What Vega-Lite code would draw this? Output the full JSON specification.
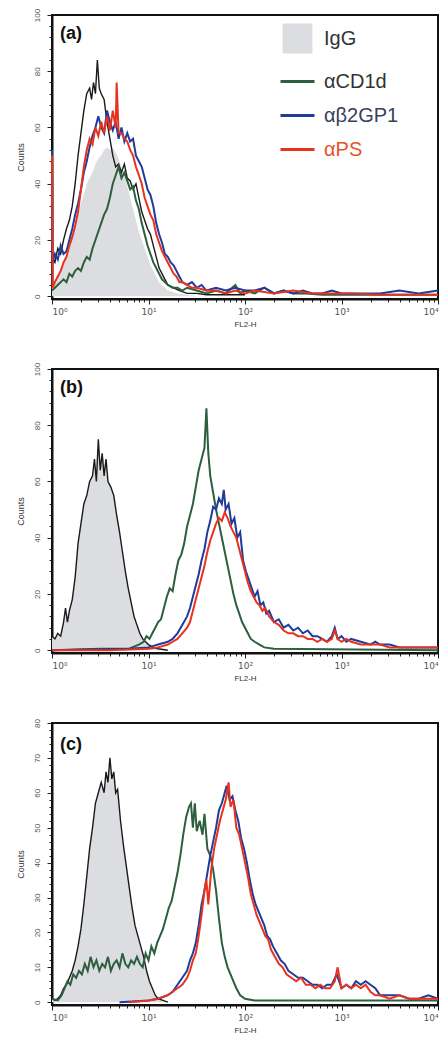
{
"$schema": "https://vega.github.io/schema/vega-lite/v6.json",
"background": "white",
"padding": {"left": 15, "top": 7, "right": 0, "bottom": 0},
"spacing": 70,
"bounds": "flush",
"resolve": {"scale": {"color": "independent"}},
"config": {
  "view": {"stroke": "#111", "strokeWidth": 2},
  "font": "Liberation Sans",
  "axis": {"grid": false, "domainColor": "#111", "domainWidth": 2, "tickColor": "#222", "tickWidth": 1, "labelColor": "#555", "labelFontSize": 8, "titleFontSize": 8, "titleFontWeight": "normal", "titleColor": "#333"},
  "axisX": {"labelPadding": 3, "titlePadding": 4, "labelFont": "DejaVu Sans", "labelFontSize": 9},
  "axisY": {"labelAngle": -90, "labelAlign": "center", "labelBaseline": "bottom", "labelPadding": 6, "titlePadding": 8, "titleFontSize": 9},
  "legend": {"title": null, "symbolType": "stroke", "symbolSize": 1156, "symbolStrokeWidth": 3, "labelFontSize": 20, "labelOffset": 8, "rowPadding": 5, "labelFont": "Liberation Sans", "labelColor": "#333333"}
},
"datasets": {
"aG": [{"l":0,"y":4},{"l":0.03,"y":5},{"l":0.06,"y":7},{"l":0.09,"y":9},{"l":0.12,"y":11},{"l":0.15,"y":14},{"l":0.18,"y":17},{"l":0.21,"y":21},{"l":0.24,"y":25},{"l":0.27,"y":29},{"l":0.30,"y":33},{"l":0.33,"y":36},{"l":0.36,"y":40},{"l":0.39,"y":42},{"l":0.42,"y":44},{"l":0.45,"y":47},{"l":0.48,"y":49},{"l":0.51,"y":50},{"l":0.54,"y":52},{"l":0.57,"y":53},{"l":0.60,"y":52},{"l":0.63,"y":53},{"l":0.66,"y":51},{"l":0.69,"y":49},{"l":0.72,"y":46},{"l":0.75,"y":43},{"l":0.78,"y":39},{"l":0.81,"y":35},{"l":0.84,"y":31},{"l":0.87,"y":27},{"l":0.90,"y":23},{"l":0.93,"y":20},{"l":0.96,"y":17},{"l":0.99,"y":14},{"l":1.02,"y":11},{"l":1.05,"y":9},{"l":1.08,"y":7},{"l":1.11,"y":5},{"l":1.14,"y":4},{"l":1.17,"y":3},{"l":1.20,"y":2},{"l":1.25,"y":1.5},{"l":1.30,"y":1},{"l":1.40,"y":0.5},{"l":1.50,"y":0}],
"aK": [{"l":0,"y":14},{"l":0.03,"y":12},{"l":0.06,"y":17},{"l":0.09,"y":15},{"l":0.12,"y":20},{"l":0.15,"y":24},{"l":0.18,"y":27},{"l":0.21,"y":32},{"l":0.24,"y":40},{"l":0.27,"y":50},{"l":0.30,"y":58},{"l":0.33,"y":66},{"l":0.36,"y":72},{"l":0.39,"y":74},{"l":0.41,"y":70},{"l":0.43,"y":76},{"l":0.45,"y":72},{"l":0.47,"y":84},{"l":0.49,"y":74},{"l":0.51,"y":72},{"l":0.54,"y":70},{"l":0.57,"y":62},{"l":0.60,"y":56},{"l":0.63,"y":50},{"l":0.66,"y":46},{"l":0.69,"y":47},{"l":0.72,"y":44},{"l":0.75,"y":47},{"l":0.78,"y":42},{"l":0.81,"y":41},{"l":0.84,"y":38},{"l":0.87,"y":40},{"l":0.90,"y":35},{"l":0.93,"y":30},{"l":0.96,"y":27},{"l":0.99,"y":24},{"l":1.02,"y":22},{"l":1.05,"y":18},{"l":1.08,"y":14},{"l":1.11,"y":10},{"l":1.14,"y":8},{"l":1.17,"y":6},{"l":1.20,"y":4},{"l":1.26,"y":3},{"l":1.32,"y":2},{"l":1.40,"y":1},{"l":1.50,"y":1},{"l":1.60,"y":0.5},{"l":2.0,"y":0.5}],
"aC": [{"l":0,"y":2},{"l":0.03,"y":3},{"l":0.06,"y":4},{"l":0.09,"y":5},{"l":0.12,"y":6},{"l":0.15,"y":5},{"l":0.18,"y":8},{"l":0.21,"y":7},{"l":0.24,"y":9},{"l":0.27,"y":10},{"l":0.30,"y":9},{"l":0.33,"y":12},{"l":0.36,"y":14},{"l":0.39,"y":13},{"l":0.42,"y":17},{"l":0.45,"y":20},{"l":0.48,"y":23},{"l":0.51,"y":26},{"l":0.54,"y":29},{"l":0.57,"y":31},{"l":0.60,"y":35},{"l":0.63,"y":40},{"l":0.66,"y":43},{"l":0.69,"y":46},{"l":0.72,"y":42},{"l":0.75,"y":44},{"l":0.78,"y":41},{"l":0.81,"y":38},{"l":0.84,"y":39},{"l":0.87,"y":34},{"l":0.90,"y":31},{"l":0.93,"y":26},{"l":0.96,"y":22},{"l":0.99,"y":18},{"l":1.02,"y":15},{"l":1.05,"y":12},{"l":1.08,"y":10},{"l":1.11,"y":8},{"l":1.14,"y":6},{"l":1.17,"y":5},{"l":1.20,"y":4},{"l":1.25,"y":3},{"l":1.30,"y":3},{"l":1.35,"y":2},{"l":1.40,"y":3},{"l":1.5,"y":2},{"l":1.6,"y":1},{"l":1.7,"y":2},{"l":1.8,"y":1},{"l":1.9,"y":4},{"l":1.95,"y":1},{"l":2.0,"y":2},{"l":2.1,"y":1},{"l":2.2,"y":3},{"l":2.3,"y":1},{"l":2.4,"y":2},{"l":2.5,"y":1},{"l":2.6,"y":1},{"l":2.8,"y":0.5},{"l":3.0,"y":0.5},{"l":3.5,"y":0.5},{"l":4.0,"y":0.5}],
"aB": [{"l":0,"y":52},{"l":0.005,"y":12},{"l":0.03,"y":15},{"l":0.06,"y":13},{"l":0.09,"y":18},{"l":0.12,"y":15},{"l":0.15,"y":16},{"l":0.18,"y":20},{"l":0.21,"y":24},{"l":0.24,"y":29},{"l":0.27,"y":33},{"l":0.30,"y":38},{"l":0.33,"y":44},{"l":0.36,"y":48},{"l":0.39,"y":53},{"l":0.42,"y":57},{"l":0.45,"y":60},{"l":0.48,"y":64},{"l":0.51,"y":60},{"l":0.54,"y":58},{"l":0.57,"y":66},{"l":0.60,"y":62},{"l":0.63,"y":59},{"l":0.66,"y":62},{"l":0.69,"y":56},{"l":0.72,"y":60},{"l":0.75,"y":55},{"l":0.78,"y":58},{"l":0.81,"y":55},{"l":0.84,"y":56},{"l":0.87,"y":50},{"l":0.90,"y":48},{"l":0.93,"y":46},{"l":0.96,"y":42},{"l":0.99,"y":38},{"l":1.02,"y":36},{"l":1.05,"y":32},{"l":1.08,"y":26},{"l":1.11,"y":22},{"l":1.14,"y":19},{"l":1.17,"y":15},{"l":1.20,"y":14},{"l":1.23,"y":12},{"l":1.26,"y":11},{"l":1.29,"y":9},{"l":1.32,"y":7},{"l":1.35,"y":5},{"l":1.40,"y":4},{"l":1.45,"y":5},{"l":1.5,"y":3},{"l":1.55,"y":4},{"l":1.6,"y":2},{"l":1.7,"y":3},{"l":1.8,"y":2},{"l":1.9,"y":3},{"l":2.0,"y":2},{"l":2.1,"y":2},{"l":2.2,"y":3},{"l":2.3,"y":1},{"l":2.4,"y":2},{"l":2.5,"y":1},{"l":2.6,"y":2},{"l":2.7,"y":1},{"l":2.8,"y":1},{"l":2.9,"y":2},{"l":3.0,"y":1},{"l":3.2,"y":1},{"l":3.4,"y":1},{"l":3.6,"y":2},{"l":3.8,"y":1},{"l":4.0,"y":2}],
"aP": [{"l":0,"y":50},{"l":0.005,"y":3},{"l":0.03,"y":5},{"l":0.06,"y":7},{"l":0.09,"y":9},{"l":0.12,"y":12},{"l":0.15,"y":14},{"l":0.18,"y":18},{"l":0.21,"y":21},{"l":0.24,"y":25},{"l":0.27,"y":30},{"l":0.30,"y":38},{"l":0.33,"y":46},{"l":0.36,"y":52},{"l":0.39,"y":56},{"l":0.42,"y":54},{"l":0.45,"y":60},{"l":0.48,"y":57},{"l":0.51,"y":62},{"l":0.54,"y":58},{"l":0.57,"y":64},{"l":0.60,"y":59},{"l":0.63,"y":66},{"l":0.66,"y":60},{"l":0.67,"y":76},{"l":0.69,"y":58},{"l":0.72,"y":58},{"l":0.75,"y":56},{"l":0.78,"y":55},{"l":0.81,"y":52},{"l":0.84,"y":50},{"l":0.87,"y":46},{"l":0.90,"y":43},{"l":0.93,"y":40},{"l":0.96,"y":35},{"l":0.99,"y":32},{"l":1.02,"y":29},{"l":1.05,"y":27},{"l":1.08,"y":22},{"l":1.11,"y":19},{"l":1.14,"y":16},{"l":1.17,"y":14},{"l":1.20,"y":12},{"l":1.23,"y":10},{"l":1.26,"y":8},{"l":1.29,"y":7},{"l":1.32,"y":5},{"l":1.35,"y":5},{"l":1.40,"y":4},{"l":1.45,"y":3},{"l":1.5,"y":3},{"l":1.6,"y":2},{"l":1.7,"y":2},{"l":1.8,"y":1},{"l":1.9,"y":2},{"l":2.0,"y":1},{"l":2.1,"y":2},{"l":2.3,"y":1},{"l":2.5,"y":2},{"l":2.7,"y":1},{"l":2.9,"y":1},{"l":3.1,"y":1},{"l":3.4,"y":0.5},{"l":4.0,"y":0.5}],
"bG": [{"l":0,"y":5},{"l":0.03,"y":4},{"l":0.06,"y":6},{"l":0.09,"y":5},{"l":0.12,"y":10},{"l":0.14,"y":15},{"l":0.16,"y":10},{"l":0.18,"y":14},{"l":0.21,"y":18},{"l":0.24,"y":26},{"l":0.27,"y":38},{"l":0.30,"y":45},{"l":0.33,"y":52},{"l":0.36,"y":55},{"l":0.39,"y":60},{"l":0.42,"y":62},{"l":0.44,"y":68},{"l":0.46,"y":60},{"l":0.48,"y":75},{"l":0.50,"y":64},{"l":0.52,"y":70},{"l":0.54,"y":62},{"l":0.56,"y":68},{"l":0.58,"y":60},{"l":0.61,"y":58},{"l":0.64,"y":55},{"l":0.67,"y":48},{"l":0.70,"y":42},{"l":0.73,"y":35},{"l":0.76,"y":28},{"l":0.79,"y":22},{"l":0.82,"y":17},{"l":0.85,"y":12},{"l":0.88,"y":9},{"l":0.91,"y":6},{"l":0.94,"y":4},{"l":0.97,"y":3},{"l":1.00,"y":2},{"l":1.05,"y":1},{"l":1.10,"y":0.5},{"l":1.2,"y":0}],
"bC": [{"l":0,"y":0},{"l":0.5,"y":0.5},{"l":0.8,"y":0.5},{"l":0.9,"y":2},{"l":0.95,"y":3},{"l":0.98,"y":5},{"l":1.01,"y":4},{"l":1.04,"y":6},{"l":1.07,"y":8},{"l":1.10,"y":10},{"l":1.13,"y":11},{"l":1.16,"y":15},{"l":1.19,"y":19},{"l":1.22,"y":22},{"l":1.25,"y":21},{"l":1.28,"y":27},{"l":1.31,"y":32},{"l":1.34,"y":34},{"l":1.37,"y":38},{"l":1.40,"y":44},{"l":1.43,"y":48},{"l":1.46,"y":52},{"l":1.49,"y":58},{"l":1.52,"y":64},{"l":1.55,"y":68},{"l":1.58,"y":72},{"l":1.60,"y":86},{"l":1.62,"y":70},{"l":1.64,"y":62},{"l":1.67,"y":56},{"l":1.70,"y":50},{"l":1.73,"y":45},{"l":1.76,"y":40},{"l":1.79,"y":35},{"l":1.82,"y":30},{"l":1.85,"y":25},{"l":1.88,"y":20},{"l":1.91,"y":16},{"l":1.94,"y":13},{"l":1.97,"y":10},{"l":2.00,"y":8},{"l":2.03,"y":6},{"l":2.06,"y":4},{"l":2.10,"y":3},{"l":2.15,"y":2},{"l":2.2,"y":1},{"l":2.3,"y":0.5},{"l":4.0,"y":0}],
"bB": [{"l":0,"y":0},{"l":0.8,"y":0.5},{"l":1.0,"y":1},{"l":1.1,"y":2},{"l":1.2,"y":3},{"l":1.25,"y":4},{"l":1.30,"y":6},{"l":1.35,"y":9},{"l":1.40,"y":12},{"l":1.43,"y":15},{"l":1.46,"y":19},{"l":1.49,"y":23},{"l":1.52,"y":27},{"l":1.55,"y":32},{"l":1.58,"y":36},{"l":1.61,"y":42},{"l":1.64,"y":46},{"l":1.67,"y":51},{"l":1.70,"y":50},{"l":1.73,"y":54},{"l":1.76,"y":52},{"l":1.78,"y":57},{"l":1.80,"y":50},{"l":1.83,"y":52},{"l":1.86,"y":45},{"l":1.89,"y":47},{"l":1.92,"y":40},{"l":1.95,"y":42},{"l":1.98,"y":32},{"l":2.01,"y":28},{"l":2.04,"y":25},{"l":2.07,"y":22},{"l":2.10,"y":19},{"l":2.13,"y":21},{"l":2.16,"y":16},{"l":2.19,"y":17},{"l":2.22,"y":13},{"l":2.25,"y":14},{"l":2.30,"y":10},{"l":2.35,"y":11},{"l":2.40,"y":8},{"l":2.45,"y":9},{"l":2.50,"y":7},{"l":2.55,"y":8},{"l":2.60,"y":6},{"l":2.65,"y":7},{"l":2.70,"y":5},{"l":2.75,"y":5},{"l":2.80,"y":4},{"l":2.85,"y":3},{"l":2.90,"y":5},{"l":2.93,"y":8},{"l":2.96,"y":4},{"l":3.0,"y":5},{"l":3.05,"y":3},{"l":3.1,"y":4},{"l":3.2,"y":3},{"l":3.3,"y":2},{"l":3.35,"y":3},{"l":3.4,"y":2},{"l":3.5,"y":2},{"l":3.6,"y":1},{"l":3.7,"y":1},{"l":3.8,"y":1},{"l":3.9,"y":1},{"l":4.0,"y":1}],
"bP": [{"l":0,"y":0},{"l":0.6,"y":0},{"l":1.0,"y":0.5},{"l":1.1,"y":1},{"l":1.2,"y":2},{"l":1.25,"y":3},{"l":1.30,"y":4},{"l":1.35,"y":6},{"l":1.40,"y":8},{"l":1.43,"y":10},{"l":1.46,"y":14},{"l":1.49,"y":18},{"l":1.52,"y":22},{"l":1.55,"y":26},{"l":1.58,"y":30},{"l":1.61,"y":35},{"l":1.64,"y":39},{"l":1.67,"y":42},{"l":1.70,"y":45},{"l":1.73,"y":47},{"l":1.76,"y":46},{"l":1.79,"y":49},{"l":1.82,"y":47},{"l":1.85,"y":44},{"l":1.88,"y":42},{"l":1.91,"y":40},{"l":1.94,"y":36},{"l":1.97,"y":32},{"l":2.00,"y":28},{"l":2.03,"y":24},{"l":2.06,"y":21},{"l":2.09,"y":19},{"l":2.12,"y":17},{"l":2.15,"y":16},{"l":2.18,"y":14},{"l":2.21,"y":15},{"l":2.25,"y":12},{"l":2.30,"y":10},{"l":2.35,"y":9},{"l":2.40,"y":7},{"l":2.45,"y":6},{"l":2.50,"y":6},{"l":2.55,"y":5},{"l":2.60,"y":5},{"l":2.65,"y":4},{"l":2.70,"y":4},{"l":2.75,"y":3},{"l":2.80,"y":4},{"l":2.85,"y":3},{"l":2.90,"y":4},{"l":2.93,"y":7},{"l":2.96,"y":4},{"l":3.0,"y":3},{"l":3.05,"y":4},{"l":3.1,"y":3},{"l":3.2,"y":2},{"l":3.3,"y":2},{"l":3.4,"y":2},{"l":3.5,"y":1},{"l":3.6,"y":1},{"l":3.8,"y":1},{"l":4.0,"y":1}],
"cG": [{"l":0,"y":1},{"l":0.03,"y":0.5},{"l":0.06,"y":1},{"l":0.09,"y":2},{"l":0.12,"y":4},{"l":0.15,"y":5},{"l":0.18,"y":7},{"l":0.21,"y":9},{"l":0.24,"y":12},{"l":0.27,"y":16},{"l":0.30,"y":21},{"l":0.33,"y":28},{"l":0.36,"y":36},{"l":0.39,"y":44},{"l":0.42,"y":50},{"l":0.45,"y":57},{"l":0.48,"y":60},{"l":0.51,"y":63},{"l":0.54,"y":60},{"l":0.56,"y":66},{"l":0.58,"y":63},{"l":0.60,"y":70},{"l":0.62,"y":64},{"l":0.64,"y":66},{"l":0.66,"y":60},{"l":0.68,"y":61},{"l":0.71,"y":52},{"l":0.74,"y":45},{"l":0.77,"y":39},{"l":0.80,"y":33},{"l":0.83,"y":27},{"l":0.86,"y":22},{"l":0.89,"y":19},{"l":0.92,"y":16},{"l":0.95,"y":13},{"l":0.98,"y":9},{"l":1.01,"y":6},{"l":1.04,"y":4},{"l":1.07,"y":2},{"l":1.10,"y":1},{"l":1.15,"y":0.5},{"l":1.2,"y":0}],
"cC": [{"l":0,"y":1},{"l":0.06,"y":0.5},{"l":0.10,"y":2},{"l":0.13,"y":4},{"l":0.16,"y":6},{"l":0.19,"y":5},{"l":0.22,"y":8},{"l":0.25,"y":7},{"l":0.28,"y":9},{"l":0.31,"y":8},{"l":0.34,"y":11},{"l":0.37,"y":9},{"l":0.40,"y":13},{"l":0.43,"y":10},{"l":0.46,"y":12},{"l":0.49,"y":9},{"l":0.52,"y":11},{"l":0.55,"y":10},{"l":0.58,"y":13},{"l":0.61,"y":9},{"l":0.64,"y":11},{"l":0.67,"y":12},{"l":0.70,"y":10},{"l":0.73,"y":14},{"l":0.76,"y":11},{"l":0.79,"y":10},{"l":0.82,"y":12},{"l":0.85,"y":11},{"l":0.88,"y":13},{"l":0.91,"y":11},{"l":0.94,"y":10},{"l":0.97,"y":14},{"l":1.00,"y":12},{"l":1.03,"y":16},{"l":1.06,"y":14},{"l":1.09,"y":17},{"l":1.12,"y":19},{"l":1.15,"y":21},{"l":1.18,"y":24},{"l":1.21,"y":27},{"l":1.24,"y":29},{"l":1.27,"y":33},{"l":1.30,"y":37},{"l":1.33,"y":42},{"l":1.36,"y":48},{"l":1.39,"y":53},{"l":1.42,"y":56},{"l":1.44,"y":57},{"l":1.46,"y":50},{"l":1.48,"y":57},{"l":1.50,"y":49},{"l":1.53,"y":52},{"l":1.56,"y":48},{"l":1.58,"y":54},{"l":1.61,"y":44},{"l":1.64,"y":42},{"l":1.67,"y":38},{"l":1.70,"y":32},{"l":1.73,"y":24},{"l":1.76,"y":17},{"l":1.79,"y":13},{"l":1.82,"y":10},{"l":1.85,"y":8},{"l":1.88,"y":6},{"l":1.91,"y":4},{"l":1.95,"y":2},{"l":2.0,"y":1},{"l":2.1,"y":0.5},{"l":4.0,"y":0.5}],
"cB": [{"l":0.7,"y":0},{"l":1.0,"y":0.5},{"l":1.10,"y":1},{"l":1.20,"y":2},{"l":1.25,"y":3},{"l":1.30,"y":5},{"l":1.35,"y":7},{"l":1.40,"y":9},{"l":1.43,"y":12},{"l":1.46,"y":14},{"l":1.49,"y":17},{"l":1.52,"y":22},{"l":1.55,"y":28},{"l":1.58,"y":32},{"l":1.61,"y":37},{"l":1.64,"y":42},{"l":1.67,"y":46},{"l":1.70,"y":50},{"l":1.73,"y":55},{"l":1.76,"y":57},{"l":1.79,"y":60},{"l":1.81,"y":62},{"l":1.84,"y":58},{"l":1.87,"y":59},{"l":1.90,"y":55},{"l":1.93,"y":52},{"l":1.96,"y":47},{"l":1.99,"y":44},{"l":2.02,"y":40},{"l":2.05,"y":35},{"l":2.08,"y":31},{"l":2.11,"y":28},{"l":2.14,"y":26},{"l":2.17,"y":24},{"l":2.20,"y":22},{"l":2.23,"y":19},{"l":2.26,"y":18},{"l":2.29,"y":16},{"l":2.33,"y":14},{"l":2.37,"y":12},{"l":2.41,"y":11},{"l":2.45,"y":9},{"l":2.50,"y":8},{"l":2.55,"y":7},{"l":2.60,"y":7},{"l":2.65,"y":6},{"l":2.70,"y":5},{"l":2.75,"y":5},{"l":2.80,"y":4},{"l":2.85,"y":5},{"l":2.90,"y":5},{"l":2.95,"y":8},{"l":3.00,"y":4},{"l":3.05,"y":5},{"l":3.10,"y":4},{"l":3.15,"y":6},{"l":3.20,"y":5},{"l":3.25,"y":6},{"l":3.30,"y":5},{"l":3.35,"y":4},{"l":3.40,"y":2},{"l":3.45,"y":2},{"l":3.5,"y":2},{"l":3.6,"y":2},{"l":3.7,"y":1},{"l":3.8,"y":1},{"l":3.9,"y":2},{"l":4.0,"y":1}],
"cP": [{"l":0.8,"y":0},{"l":1.0,"y":0.5},{"l":1.10,"y":1},{"l":1.20,"y":2},{"l":1.25,"y":3},{"l":1.30,"y":4},{"l":1.35,"y":5},{"l":1.40,"y":7},{"l":1.43,"y":9},{"l":1.46,"y":12},{"l":1.49,"y":14},{"l":1.52,"y":19},{"l":1.55,"y":25},{"l":1.58,"y":32},{"l":1.60,"y":35},{"l":1.62,"y":28},{"l":1.65,"y":38},{"l":1.68,"y":44},{"l":1.71,"y":48},{"l":1.74,"y":52},{"l":1.77,"y":55},{"l":1.80,"y":58},{"l":1.83,"y":63},{"l":1.85,"y":56},{"l":1.88,"y":58},{"l":1.91,"y":50},{"l":1.94,"y":48},{"l":1.97,"y":44},{"l":2.00,"y":40},{"l":2.03,"y":36},{"l":2.06,"y":31},{"l":2.09,"y":28},{"l":2.12,"y":25},{"l":2.15,"y":23},{"l":2.18,"y":21},{"l":2.21,"y":19},{"l":2.24,"y":18},{"l":2.27,"y":15},{"l":2.31,"y":13},{"l":2.35,"y":11},{"l":2.39,"y":10},{"l":2.43,"y":8},{"l":2.48,"y":7},{"l":2.53,"y":6},{"l":2.58,"y":7},{"l":2.63,"y":5},{"l":2.68,"y":5},{"l":2.73,"y":4},{"l":2.78,"y":5},{"l":2.83,"y":4},{"l":2.88,"y":4},{"l":2.93,"y":6},{"l":2.96,"y":10},{"l":3.00,"y":4},{"l":3.05,"y":5},{"l":3.10,"y":4},{"l":3.15,"y":5},{"l":3.20,"y":4},{"l":3.25,"y":5},{"l":3.30,"y":3},{"l":3.35,"y":2},{"l":3.40,"y":2},{"l":3.5,"y":1},{"l":3.6,"y":2},{"l":3.7,"y":1},{"l":3.8,"y":1},{"l":4.0,"y":1}]
},
"vconcat": [
{
  "width": 386, "height": 284,
  "title": {"text": "(a)", "anchor": "start", "frame": "group", "fontSize": 18, "fontWeight": "bold", "color": "#111", "offset": -35, "dx": 8},
  "encoding": {
    "x": {"field": "l", "type": "quantitative", "scale": {"domain": [0, 4], "nice": false, "zero": false},
      "axis": {"title": "FL2-H", "values": [0,0.301,0.477,0.602,0.699,0.778,0.845,0.903,0.954,1,1.301,1.477,1.602,1.699,1.778,1.845,1.903,1.954,2,2.301,2.477,2.602,2.699,2.778,2.845,2.903,2.954,3,3.301,3.477,3.602,3.699,3.778,3.845,3.903,3.954,4],
        "labelExpr": "datum.value === 0 ? '10⁰' : datum.value === 1 ? '10¹' : datum.value === 2 ? '10²' : datum.value === 3 ? '10³' : datum.value === 4 ? '10⁴' : ''",
        "tickSize": {"condition": {"test": "datum.value % 1 === 0", "value": 5}, "value": 3}}},
    "y": {"field": "y", "type": "quantitative", "scale": {"domain": [-1, 100], "nice": false, "zero": false},
      "axis": {"title": "Counts", "values": [0,4,8,12,16,20,24,28,32,36,40,44,48,52,56,60,64,68,72,76,80,84,88,92,96,100],
        "labelExpr": "datum.value % 20 === 0 ? datum.label : ''",
        "tickSize": {"condition": {"test": "datum.value % 20 === 0", "value": 5}, "value": 3}}}
  },
  "layer": [
    {"data": {"name": "aG"}, "mark": {"type": "area", "opacity": 1},
     "encoding": {"color": {"datum": "IgG", "scale": {"domain": ["IgG","αCD1d","αβ2GP1","αPS"], "range": ["#dcdde0","#2d5e3e","#1f3c9a","#e8321e"]},
       "legend": {"orient": "none", "legendX": 227, "legendY": 5,
         "encode": {"symbols": {"update": {"shape": {"signal": "datum.label === 'IgG' ? 'square' : 'stroke'"}, "size": {"signal": "datum.label === 'IgG' ? 720 : 1156"}, "fill": {"signal": "datum.label === 'IgG' ? '#dcdde0' : 'transparent'"}, "stroke": {"signal": "datum.label === 'αCD1d' ? '#2d5e3e' : datum.label === 'αβ2GP1' ? '#1f3c9a' : datum.label === 'αPS' ? '#e8321e' : 'transparent'"}, "strokeWidth": {"value": 3}}},
                    "labels": {"update": {"fill": {"signal": "datum.label === 'αPS' ? '#e8542a' : datum.label === 'αβ2GP1' ? '#3a3f5a' : '#333333'"}}}}}}}},
    {"data": {"name": "aK"}, "mark": {"type": "line", "color": "#1a1a1a", "strokeWidth": 1.4}, "encoding": {}},
    {"data": {"name": "aC"}, "mark": {"type": "line", "strokeWidth": 2}, "encoding": {"color": {"datum": "αCD1d", "scale": {"domain": ["IgG","αCD1d","αβ2GP1","αPS"], "range": ["#dcdde0","#2d5e3e","#1f3c9a","#e8321e"]},
       "legend": {"orient": "none", "legendX": 227, "legendY": 5,
         "encode": {"symbols": {"update": {"shape": {"signal": "datum.label === 'IgG' ? 'square' : 'stroke'"}, "size": {"signal": "datum.label === 'IgG' ? 720 : 1156"}, "fill": {"signal": "datum.label === 'IgG' ? '#dcdde0' : 'transparent'"}, "stroke": {"signal": "datum.label === 'αCD1d' ? '#2d5e3e' : datum.label === 'αβ2GP1' ? '#1f3c9a' : datum.label === 'αPS' ? '#e8321e' : 'transparent'"}, "strokeWidth": {"value": 3}}},
                    "labels": {"update": {"fill": {"signal": "datum.label === 'αPS' ? '#e8542a' : datum.label === 'αβ2GP1' ? '#3a3f5a' : '#333333'"}}}}}}}},
    {"data": {"name": "aB"}, "mark": {"type": "line", "strokeWidth": 2}, "encoding": {"color": {"datum": "αβ2GP1", "scale": {"domain": ["IgG","αCD1d","αβ2GP1","αPS"], "range": ["#dcdde0","#2d5e3e","#1f3c9a","#e8321e"]},
       "legend": {"orient": "none", "legendX": 227, "legendY": 5,
         "encode": {"symbols": {"update": {"shape": {"signal": "datum.label === 'IgG' ? 'square' : 'stroke'"}, "size": {"signal": "datum.label === 'IgG' ? 720 : 1156"}, "fill": {"signal": "datum.label === 'IgG' ? '#dcdde0' : 'transparent'"}, "stroke": {"signal": "datum.label === 'αCD1d' ? '#2d5e3e' : datum.label === 'αβ2GP1' ? '#1f3c9a' : datum.label === 'αPS' ? '#e8321e' : 'transparent'"}, "strokeWidth": {"value": 3}}},
                    "labels": {"update": {"fill": {"signal": "datum.label === 'αPS' ? '#e8542a' : datum.label === 'αβ2GP1' ? '#3a3f5a' : '#333333'"}}}}}}}},
    {"data": {"name": "aP"}, "mark": {"type": "line", "strokeWidth": 2}, "encoding": {"color": {"datum": "αPS", "scale": {"domain": ["IgG","αCD1d","αβ2GP1","αPS"], "range": ["#dcdde0","#2d5e3e","#1f3c9a","#e8321e"]},
       "legend": {"orient": "none", "legendX": 227, "legendY": 5,
         "encode": {"symbols": {"update": {"shape": {"signal": "datum.label === 'IgG' ? 'square' : 'stroke'"}, "size": {"signal": "datum.label === 'IgG' ? 720 : 1156"}, "fill": {"signal": "datum.label === 'IgG' ? '#dcdde0' : 'transparent'"}, "stroke": {"signal": "datum.label === 'αCD1d' ? '#2d5e3e' : datum.label === 'αβ2GP1' ? '#1f3c9a' : datum.label === 'αPS' ? '#e8321e' : 'transparent'"}, "strokeWidth": {"value": 3}}},
                    "labels": {"update": {"fill": {"signal": "datum.label === 'αPS' ? '#e8542a' : datum.label === 'αβ2GP1' ? '#3a3f5a' : '#333333'"}}}}}}}}
  ]
},
{
  "width": 386, "height": 284,
  "title": {"text": "(b)", "anchor": "start", "frame": "group", "fontSize": 18, "fontWeight": "bold", "color": "#111", "offset": -35, "dx": 8},
  "encoding": {
    "x": {"field": "l", "type": "quantitative", "scale": {"domain": [0, 4], "nice": false, "zero": false},
      "axis": {"title": "FL2-H", "values": [0,0.301,0.477,0.602,0.699,0.778,0.845,0.903,0.954,1,1.301,1.477,1.602,1.699,1.778,1.845,1.903,1.954,2,2.301,2.477,2.602,2.699,2.778,2.845,2.903,2.954,3,3.301,3.477,3.602,3.699,3.778,3.845,3.903,3.954,4],
        "labelExpr": "datum.value === 0 ? '10⁰' : datum.value === 1 ? '10¹' : datum.value === 2 ? '10²' : datum.value === 3 ? '10³' : datum.value === 4 ? '10⁴' : ''",
        "tickSize": {"condition": {"test": "datum.value % 1 === 0", "value": 5}, "value": 3}}},
    "y": {"field": "y", "type": "quantitative", "scale": {"domain": [-1, 100], "nice": false, "zero": false},
      "axis": {"title": "Counts", "values": [0,4,8,12,16,20,24,28,32,36,40,44,48,52,56,60,64,68,72,76,80,84,88,92,96,100],
        "labelExpr": "datum.value % 20 === 0 ? datum.label : ''",
        "tickSize": {"condition": {"test": "datum.value % 20 === 0", "value": 5}, "value": 3}}}
  },
  "layer": [
    {"data": {"name": "bG"}, "mark": {"type": "area", "opacity": 1, "color": "#dcdde0"}, "encoding": {}},
    {"data": {"name": "bG"}, "mark": {"type": "line", "color": "#1a1a1a", "strokeWidth": 1.4}, "encoding": {}},
    {"data": {"name": "bC"}, "mark": {"type": "line", "strokeWidth": 2, "color": "#2d5e3e"}, "encoding": {}},
    {"data": {"name": "bB"}, "mark": {"type": "line", "strokeWidth": 2, "color": "#1f3c9a"}, "encoding": {}},
    {"data": {"name": "bP"}, "mark": {"type": "line", "strokeWidth": 2, "color": "#e8321e"}, "encoding": {}}
  ]
},
{
  "width": 386, "height": 282,
  "title": {"text": "(c)", "anchor": "start", "frame": "group", "fontSize": 18, "fontWeight": "bold", "color": "#111", "offset": -35, "dx": 8},
  "encoding": {
    "x": {"field": "l", "type": "quantitative", "scale": {"domain": [0, 4], "nice": false, "zero": false},
      "axis": {"title": "FL2-H", "values": [0,0.301,0.477,0.602,0.699,0.778,0.845,0.903,0.954,1,1.301,1.477,1.602,1.699,1.778,1.845,1.903,1.954,2,2.301,2.477,2.602,2.699,2.778,2.845,2.903,2.954,3,3.301,3.477,3.602,3.699,3.778,3.845,3.903,3.954,4],
        "labelExpr": "datum.value === 0 ? '10⁰' : datum.value === 1 ? '10¹' : datum.value === 2 ? '10²' : datum.value === 3 ? '10³' : datum.value === 4 ? '10⁴' : ''",
        "tickSize": {"condition": {"test": "datum.value % 1 === 0", "value": 5}, "value": 3}}},
    "y": {"field": "y", "type": "quantitative", "scale": {"domain": [-0.8, 80], "nice": false, "zero": false},
      "axis": {"title": "Counts", "values": [0,2,4,6,8,10,12,14,16,18,20,22,24,26,28,30,32,34,36,38,40,42,44,46,48,50,52,54,56,58,60,62,64,66,68,70,72,74,76,78,80],
        "labelExpr": "datum.value % 10 === 0 ? datum.label : ''",
        "tickSize": {"condition": {"test": "datum.value % 10 === 0", "value": 5}, "value": 3}}}
  },
  "layer": [
    {"data": {"name": "cG"}, "mark": {"type": "area", "opacity": 1, "color": "#dcdde0"}, "encoding": {}},
    {"data": {"name": "cG"}, "mark": {"type": "line", "color": "#1a1a1a", "strokeWidth": 1.4}, "encoding": {}},
    {"data": {"name": "cC"}, "mark": {"type": "line", "strokeWidth": 2, "color": "#2d5e3e"}, "encoding": {}},
    {"data": {"name": "cB"}, "mark": {"type": "line", "strokeWidth": 2, "color": "#1f3c9a"}, "encoding": {}},
    {"data": {"name": "cP"}, "mark": {"type": "line", "strokeWidth": 2, "color": "#e8321e"}, "encoding": {}}
  ]
}
]
}
